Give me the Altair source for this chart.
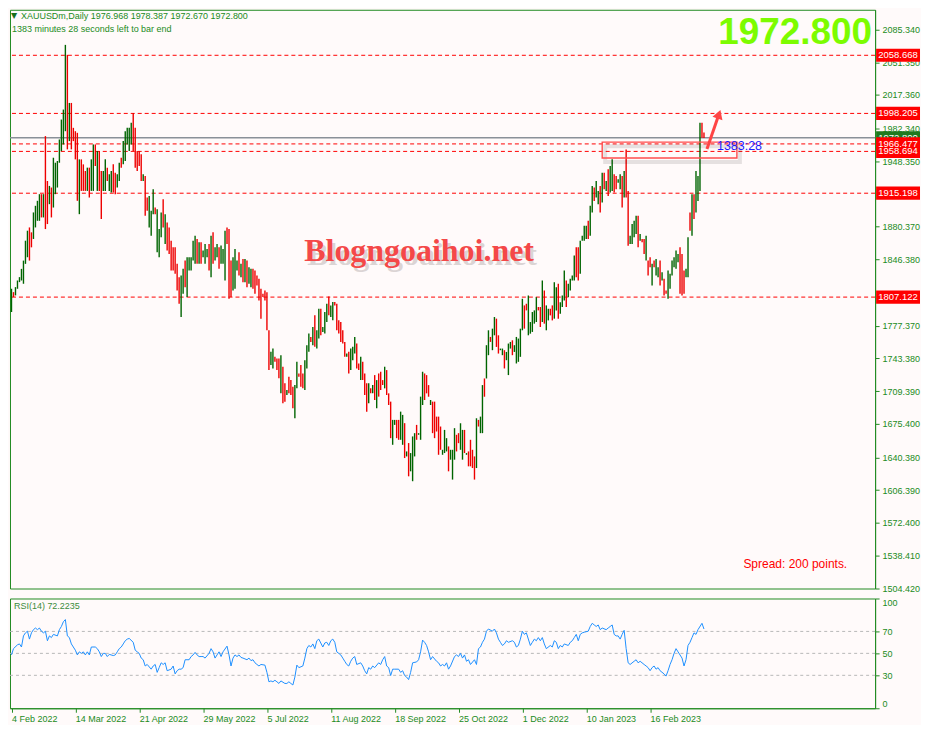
import altair as alt
import pandas as pd

# ---------------- data ----------------
high = [
    1815.8, 1812.3, 1817.5, 1824.4, 1827.9, 1836.5, 1845.1, 1865.8, 1876.2, 1879.6,
    1874.5, 1895.2, 1902.1, 1907.3, 1914.2, 1914.2, 1914.2, 1974.6, 1927.9, 1922.8,
    1921.1, 1952.1, 1946.9, 1948.7, 1971.1, 1991.8, 2002.2, 2069.5, 2059.1, 2009.1,
    2009.1, 1983.2, 1979.7, 1978.0, 1950.4, 1950.4, 1945.2, 1938.3, 1941.8, 1941.8,
    1950.4, 1965.9, 1965.9, 1959.0, 1959.0, 1938.3, 1938.3, 1950.4, 1941.8, 1934.9,
    1938.3, 1945.2, 1936.6, 1934.9, 1946.9, 1952.1, 1969.4, 1979.7, 1983.2, 1983.2,
    1988.4, 1998.7, 1983.2, 1959.0, 1959.0, 1955.6, 1934.9, 1933.1, 1910.7, 1912.4,
    1896.9, 1919.3, 1900.3, 1898.6, 1877.9, 1895.2, 1909.0, 1893.4, 1884.8, 1879.6,
    1865.8, 1858.9, 1858.9, 1841.7, 1827.9, 1829.6, 1836.5, 1845.1, 1848.6, 1848.6,
    1848.6, 1865.8, 1871.0, 1867.6, 1864.1, 1864.1, 1855.5, 1862.4, 1857.2, 1862.4,
    1871.0, 1874.5, 1858.9, 1862.4, 1858.9, 1860.7, 1857.2, 1876.2, 1879.6, 1877.9,
    1845.1, 1848.6, 1857.2, 1845.1, 1853.7, 1841.7, 1846.8, 1846.8, 1845.1, 1838.2,
    1836.5, 1836.5, 1834.8, 1829.6, 1826.1, 1815.8, 1810.6, 1814.1, 1812.3, 1772.6,
    1750.2, 1753.6, 1745.0, 1743.3, 1743.3, 1746.7, 1734.7, 1717.4, 1710.5, 1724.3,
    1720.8, 1713.9, 1715.7, 1739.8, 1727.7, 1736.4, 1727.7, 1741.5, 1757.1, 1769.2,
    1765.7, 1776.1, 1788.2, 1772.6, 1795.1, 1795.1, 1776.1, 1791.6, 1800.2, 1807.8,
    1798.5, 1802.0, 1802.0, 1800.2, 1783.0, 1781.2, 1772.6, 1760.5, 1748.5, 1750.2,
    1753.6, 1755.4, 1765.7, 1758.8, 1738.1, 1745.0, 1739.8, 1727.7, 1717.4, 1717.4,
    1712.2, 1715.7, 1726.0, 1720.8, 1727.7, 1729.5, 1720.8, 1734.7, 1731.2, 1707.0,
    1698.4, 1679.4, 1679.4, 1679.4, 1679.4, 1688.0, 1684.6, 1676.0, 1646.6, 1655.3,
    1644.9, 1662.2, 1665.6, 1674.2, 1665.6, 1703.6, 1729.5, 1727.7, 1726.0, 1715.6,
    1700.1, 1698.4, 1698.4, 1682.8, 1682.8, 1672.5, 1648.3, 1669.0, 1660.4, 1651.8,
    1648.3, 1648.3, 1670.8, 1663.9, 1665.6, 1675.9, 1669.0, 1669.0, 1644.9, 1646.6,
    1658.7, 1648.3, 1641.4, 1681.1, 1679.4, 1682.8, 1715.6, 1722.5, 1757.1, 1772.6,
    1765.7, 1774.3, 1786.4, 1784.7, 1767.4, 1753.6, 1753.6, 1751.9, 1750.1, 1758.8,
    1760.5, 1762.2, 1757.1, 1765.7, 1764.0, 1774.3, 1805.4, 1798.5, 1800.2, 1808.8,
    1781.2, 1791.6, 1793.3, 1807.1, 1796.8, 1796.8, 1824.4, 1814.0, 1798.5, 1795.0,
    1795.0, 1798.5, 1822.6, 1817.5, 1820.9, 1801.9, 1808.8, 1834.7, 1824.4, 1820.9,
    1826.1, 1829.5, 1850.3, 1858.9, 1858.9, 1865.8, 1871.0, 1881.3, 1881.3, 1886.5,
    1902.1, 1922.8, 1921.1, 1928.0, 1917.6, 1922.8, 1936.6, 1936.6, 1928.0, 1940.0,
    1943.5, 1950.4, 1934.9, 1933.1, 1929.7, 1934.9, 1933.1, 1938.3, 1960.7, 1917.6,
    1871.0, 1883.1, 1886.5, 1891.7, 1891.7, 1872.7, 1867.5, 1867.5, 1871.0, 1845.1,
    1848.6, 1841.7, 1845.1, 1846.8, 1838.2, 1845.1, 1833.0, 1826.1, 1814.0, 1834.7,
    1831.3, 1845.1, 1848.6, 1855.5, 1852.0, 1858.9, 1852.0, 1834.7, 1836.5, 1869.3,
    1895.2, 1914.1, 1914.1, 1938.3, 1933.1, 1988.4, 1988.4, 1978.4,
]
low = [
    1791.6, 1807.2, 1808.9, 1815.8, 1822.7, 1824.4, 1821.0, 1841.7, 1848.6, 1845.1,
    1858.9, 1867.6, 1879.6, 1886.5, 1886.5, 1890.0, 1890.0, 1877.9, 1883.1, 1903.8,
    1890.0, 1900.3, 1914.2, 1921.1, 1946.9, 1959.0, 1965.9, 1979.7, 1960.8, 1969.4,
    1960.8, 1969.4, 1950.4, 1907.3, 1893.4, 1917.6, 1917.6, 1917.6, 1917.6, 1910.7,
    1917.6, 1917.6, 1943.5, 1917.6, 1917.6, 1888.3, 1917.6, 1917.6, 1927.9, 1917.6,
    1915.9, 1915.9, 1914.2, 1921.1, 1927.9, 1941.8, 1945.2, 1948.7, 1965.9, 1959.0,
    1965.9, 1959.0, 1941.8, 1938.3, 1943.5, 1927.9, 1927.9, 1891.7, 1896.9, 1879.6,
    1871.0, 1893.4, 1893.4, 1853.7, 1848.6, 1869.3, 1879.6, 1862.4, 1855.5, 1852.0,
    1834.8, 1834.8, 1831.3, 1814.1, 1800.2, 1786.4, 1810.6, 1817.5, 1807.2, 1834.8,
    1834.8, 1845.1, 1841.7, 1841.7, 1841.7, 1841.7, 1848.6, 1841.7, 1848.6, 1834.8,
    1827.9, 1841.7, 1845.1, 1848.6, 1836.5, 1841.7, 1841.7, 1824.4, 1862.4, 1805.4,
    1807.2, 1814.1, 1815.8, 1834.8, 1829.6, 1827.9, 1822.7, 1822.7, 1817.5, 1821.0,
    1817.5, 1815.8, 1810.6, 1819.2, 1803.7, 1784.7, 1807.2, 1803.7, 1772.6, 1731.2,
    1736.4, 1732.9, 1739.8, 1731.2, 1722.6, 1707.0, 1696.7, 1698.4, 1705.3, 1707.0,
    1705.3, 1691.5, 1681.1, 1712.2, 1724.3, 1713.9, 1712.2, 1710.5, 1732.9, 1750.2,
    1760.5, 1757.1, 1755.4, 1753.6, 1764.0, 1767.4, 1770.9, 1769.2, 1781.2, 1788.2,
    1786.4, 1783.0, 1798.5, 1772.6, 1769.2, 1760.5, 1758.8, 1745.0, 1745.0, 1727.7,
    1731.2, 1741.5, 1748.5, 1732.9, 1731.2, 1720.8, 1720.8, 1705.3, 1688.0, 1696.7,
    1707.0, 1707.0, 1700.1, 1691.5, 1703.6, 1710.5, 1715.7, 1712.2, 1705.3, 1694.9,
    1660.4, 1653.5, 1674.2, 1660.4, 1658.7, 1658.7, 1653.5, 1639.7, 1641.4, 1620.7,
    1625.9, 1615.6, 1641.4, 1658.7, 1663.9, 1658.7, 1694.9, 1700.1, 1707.0, 1703.5,
    1694.9, 1665.6, 1660.4, 1667.3, 1643.1, 1648.3, 1643.1, 1644.9, 1646.6, 1625.9,
    1638.0, 1617.3, 1638.0, 1646.6, 1655.2, 1648.3, 1638.0, 1644.9, 1643.1, 1631.1,
    1631.1, 1629.3, 1617.3, 1629.3, 1672.5, 1665.6, 1665.6, 1703.5, 1722.5, 1746.7,
    1760.5, 1751.9, 1767.4, 1755.3, 1748.4, 1751.9, 1746.7, 1732.9, 1741.5, 1726.0,
    1753.6, 1746.7, 1750.1, 1738.1, 1739.8, 1745.0, 1772.6, 1774.3, 1793.3, 1767.4,
    1769.1, 1770.9, 1779.5, 1781.2, 1793.3, 1776.0, 1781.2, 1779.5, 1772.6, 1782.9,
    1788.1, 1782.9, 1784.7, 1793.3, 1784.7, 1789.8, 1796.8, 1803.7, 1796.8, 1807.1,
    1814.0, 1824.4, 1824.4, 1827.8, 1824.4, 1831.3, 1865.8, 1865.8, 1867.5, 1867.5,
    1871.0, 1895.2, 1907.2, 1910.7, 1903.8, 1895.2, 1905.5, 1919.3, 1917.6, 1912.4,
    1915.9, 1917.6, 1915.9, 1919.3, 1926.2, 1919.3, 1900.3, 1910.7, 1910.7, 1860.6,
    1862.4, 1862.4, 1869.3, 1872.7, 1858.9, 1865.8, 1864.1, 1852.0, 1845.1, 1829.6,
    1838.2, 1819.2, 1838.2, 1829.6, 1827.8, 1819.2, 1824.4, 1808.9, 1810.6, 1805.4,
    1815.8, 1829.6, 1838.2, 1836.5, 1843.4, 1810.6, 1808.9, 1810.6, 1827.8, 1827.8,
    1876.2, 1871.0, 1888.3, 1895.2, 1907.2, 1917.6, 1972.8, 1972.7,
]
# U = bullish bar (green), D = bearish bar (red)
direction = list(
    "UDUUUUUUUD" "DUUUUDUDDU" "DUUUUUUUDU" "DDDDUDDDUD" "UUDUDDUUDU"
    "UDDUUDUUUU" "UDDDDDUDDU" "UUDUUUDUDD" "DDDDDUUDUU" "UUUDUDUUUD"
    "UDUUDUUUDD" "DUUUDUDUDU" "UDDDDDDDDD" "UUDDDUDDUD" "DDUUDDDUUU"
    "DUDUUDUUUD" "UUDDDDDDUD" "UUUDDUDDDU" "DUDUDDDUDD" "DUUDDUUDUD"
    "UUUDUUUDDD" "UDDDDDUUUD" "UUUDDUUDUD" "DDDUDUUDUU" "DUUDDUUDUU"
    "UDUUUUUDDU" "UUUUDDUDUU" "DDUUDUUUDU" "UUUDDUUUUD" "UUDUUDUDUD"
    "UUDDUUDUDD" "UUUUDUDDUD" "DUDUUDUDDU" "UUUUUDDDUU" "DUDUUUDD"
)

# RSI(14) readings: (bar number, value)
rsi_points = [
    (0, 48.6), (1, 54.3), (3, 57.8), (4, 58.6), (5, 55.8), (6, 65.9), (7, 68.7), (8, 70.2), (9, 63.0), (10, 68.7),
    (11, 71.6), (12, 73.1), (13, 71.6), (14, 73.1), (15, 70.2), (16, 68.7), (17, 70.2), (18, 61.5), (19, 65.9), (20, 64.4),
    (21, 67.3), (23, 65.9), (24, 71.6), (25, 74.5), (26, 78.8), (27, 80.8), (28, 65.9), (29, 64.4), (30, 58.6), (32, 52.9),
    (33, 48.6), (34, 51.4), (35, 50.0), (36, 51.4), (37, 48.6), (38, 51.4), (39, 48.6), (40, 55.8), (42, 55.8), (43, 54.3),
    (44, 51.4), (45, 47.1), (46, 50.0), (47, 50.0), (48, 47.1), (49, 49.1), (51, 48.0), (52, 48.6), (53, 51.4), (54, 54.3),
    (55, 55.8), (56, 58.6), (57, 61.5), (58, 63.0), (59, 63.6), (61, 60.1), (62, 52.9), (63, 51.4), (64, 50.0), (65, 45.7),
    (66, 44.2), (67, 38.5), (68, 39.9), (70, 35.6), (71, 38.5), (72, 39.9), (73, 32.7), (74, 37.0), (75, 41.4), (76, 39.9),
    (77, 41.4), (78, 34.2), (80, 35.6), (81, 38.5), (82, 31.3), (83, 34.2), (84, 35.6), (85, 35.6), (86, 37.0), (87, 44.2),
    (89, 44.2), (90, 47.1), (91, 48.6), (92, 50.9), (93, 48.6), (94, 47.1), (95, 47.1), (96, 47.1), (97, 45.7), (99, 50.0),
    (100, 54.3), (101, 51.4), (102, 45.7), (103, 48.6), (104, 51.4), (105, 47.1), (106, 51.4), (108, 56.6), (109, 48.6), (110, 38.5),
    (111, 45.7), (112, 48.6), (113, 47.1), (114, 48.6), (115, 46.3), (116, 45.7), (118, 44.2), (119, 45.7), (120, 43.4), (121, 44.2),
    (122, 41.4), (123, 39.9), (124, 38.5), (125, 39.9), (127, 39.3), (128, 32.7), (129, 24.1), (130, 24.9), (131, 24.1), (132, 25.5),
    (133, 24.1), (134, 22.6), (135, 24.9), (137, 22.6), (138, 22.6), (139, 24.1), (140, 22.6), (141, 21.2), (142, 28.4), (143, 39.3),
    (144, 37.0), (146, 38.5), (147, 45.7), (148, 54.3), (149, 57.2), (150, 55.8), (151, 58.6), (152, 54.3), (153, 61.5), (154, 63.0),
    (156, 55.8), (157, 59.5), (158, 60.1), (159, 57.2), (160, 61.5), (161, 63.0), (162, 60.1), (163, 51.4), (165, 48.6), (166, 45.7),
    (167, 42.8), (168, 39.9), (169, 38.5), (170, 42.8), (171, 45.7), (172, 47.1), (173, 39.9), (175, 41.4), (176, 38.5), (177, 34.2),
    (178, 31.3), (179, 37.0), (180, 35.6), (181, 38.5), (182, 37.0), (184, 41.4), (185, 39.9), (186, 44.2), (187, 47.1), (188, 38.5),
    (189, 37.0), (190, 29.8), (191, 35.6), (192, 35.6), (194, 35.6), (195, 32.7), (196, 34.2), (197, 29.8), (198, 28.4), (199, 26.1),
    (200, 32.7), (201, 41.4), (203, 42.2), (204, 44.2), (205, 51.4), (206, 62.1), (207, 60.1), (208, 57.2), (209, 51.4), (210, 44.2),
    (211, 47.1), (213, 42.8), (214, 41.4), (215, 38.5), (216, 39.9), (217, 38.5), (218, 41.4), (219, 35.6), (220, 38.5), (222, 47.1),
    (223, 48.6), (224, 47.1), (225, 50.0), (226, 45.7), (227, 48.6), (228, 42.8), (229, 44.2), (230, 39.9), (232, 44.2), (233, 39.9),
    (234, 54.3), (235, 55.8), (236, 60.1), (237, 63.0), (238, 70.2), (239, 72.2), (241, 70.2), (242, 72.2), (243, 68.7), (244, 63.0),
    (245, 60.1), (246, 57.2), (247, 58.6), (248, 61.5), (249, 60.1), (251, 61.5), (252, 60.1), (253, 55.8), (254, 57.2), (255, 63.0),
    (256, 70.2), (257, 67.3), (258, 68.7), (260, 57.2), (261, 60.1), (262, 63.0), (263, 61.5), (264, 64.4), (265, 61.5), (266, 64.4),
    (267, 58.6), (268, 54.3), (270, 57.2), (271, 55.8), (272, 61.5), (273, 60.1), (274, 54.3), (275, 57.2), (276, 55.8), (277, 58.6),
    (279, 57.2), (280, 60.1), (281, 61.5), (282, 64.4), (283, 67.3), (284, 61.5), (285, 67.3), (286, 68.7), (287, 69.3), (289, 70.2),
    (290, 74.5), (291, 77.4), (292, 75.9), (293, 74.5), (294, 75.9), (295, 71.6), (296, 73.1), (298, 71.6), (299, 73.1), (300, 74.5),
    (301, 75.9), (302, 67.3), (303, 65.9), (304, 65.9), (305, 63.0), (306, 67.3), (307, 71.0), (308, 54.3), (309, 41.4), (310, 39.9),
    (312, 42.8), (313, 44.2), (314, 41.4), (315, 42.8), (317, 39.9), (318, 38.5), (319, 37.0), (320, 34.2), (321, 37.0), (322, 38.5),
    (323, 35.6), (324, 37.0), (325, 34.2), (327, 31.3), (328, 29.3), (329, 34.2), (330, 39.9), (331, 44.2), (332, 50.0), (333, 54.3),
    (334, 51.4), (336, 45.7), (337, 38.5), (338, 44.2), (339, 57.2), (340, 60.1), (341, 64.4), (342, 68.7), (343, 67.3), (344, 71.6),
    (346, 77.4), (347, 72.2),
]

levels = [2058.668, 1998.205, 1966.477, 1958.694, 1915.198, 1807.122]
current_price = 1972.800
# price scale labels that stay visible (the ones under the red level boxes are covered)
price_ticks = [2085.340, 2051.350, 2017.360, 1982.340, 1948.350, 1880.370,
               1846.380, 1777.370, 1743.380, 1709.390, 1675.400, 1640.380,
               1606.390, 1572.400, 1538.410, 1504.420]
rsi_levels = [30, 50, 70]
rsi_ticks = [0, 30, 50, 70, 100]
date_tick_bars = [0, 32, 64, 96, 128, 160, 192, 224, 256, 288, 320]
date_labels = ["4 Feb 2022", "14 Mar 2022", "21 Apr 2022", "29 May 2022", "5 Jul 2022",
               "11 Aug 2022", "18 Sep 2022", "25 Oct 2022", "1 Dec 2022", "10 Jan 2023",
               "16 Feb 2023"]
# drawn objects (bar number / price)
zone_bars = [296.0, 363.5]
zone_prices = [1968.3, 1951.8]
arrow_bars = [348.5, 354.5]
arrow_prices = [1961.1, 1997.3]
timer_bar, timer_price, timer_text = 353.5, 1964.2, "1383:28"

header_1 = "XAUUSDm,Daily  1976.968 1978.387 1972.670 1972.800"
header_2 = "1383 minutes 28 seconds left to bar end"
big_price = "1972.800"
watermark = "Blogngoaihoi.net"
spread_text = "Spread: 200 points."
rsi_title = "RSI(14) 72.2235"

# ---------------- styling ----------------
GREEN = "#228B22"
UP_COLOR = "#006400"
DOWN_COLOR = "#ee0000"
LEVEL_RED = "#ff0000"
BG = "#fffafa"
FONT = "Liberation Sans"
W = 867
H_MAIN = 580
H_RSI = 110

# 2 px per bar
x_scale = alt.Scale(domain=[-0.75, 432.75], nice=False, zero=False)
y_scale = alt.Scale(domain=[1504.0, 2106.0], nice=False, zero=False)

y_axis = alt.Axis(orient="right", values=price_ticks, format=".3f", title=None, grid=False,
                  domainColor=GREEN, tickColor=GREEN, labelColor=GREEN, labelFont=FONT,
                  labelFontSize=9, tickSize=4, labelPadding=3)


def X(field):
    return alt.X(field, type="quantitative", scale=x_scale, axis=None)


def Y(field):
    return alt.Y(field, type="quantitative", scale=y_scale, axis=y_axis)


bars_df = pd.DataFrame({"bar": list(range(len(high))), "high": high, "low": low, "dir": direction})
levels_df = pd.DataFrame({"price": levels, "label": [f"{v:.3f}" for v in levels]})
cur_df = pd.DataFrame({"price": [current_price], "label": [f"{current_price:.3f}"]})
zone_df = pd.DataFrame({"b1": [zone_bars[0]], "b2": [zone_bars[1]], "p1": [zone_prices[0]], "p2": [zone_prices[1]]})
arrow_df = pd.DataFrame({"bar": arrow_bars, "price": arrow_prices, "k": [0, 1]})
head_df = pd.DataFrame({"bar": [arrow_bars[1]], "price": [arrow_prices[1]]})
timer_df = pd.DataFrame({"bar": [timer_bar], "price": [timer_price], "t": [timer_text]})

level_lines = alt.Chart(levels_df).mark_rule(color=LEVEL_RED, strokeDash=[4, 3], strokeWidth=1).encode(y=Y("price"))
bid_line = alt.Chart(cur_df).mark_rule(color="#8a9098", strokeWidth=1.5).encode(y=Y("price"))

bars = alt.Chart(bars_df).mark_rule(strokeWidth=1.4).encode(
    x=X("bar"), y=Y("low"), y2=alt.Y2("high"),
    color=alt.Color("dir:N", scale=alt.Scale(domain=["U", "D"], range=[UP_COLOR, DOWN_COLOR]), legend=None),
)

zone_shadow = alt.Chart(zone_df).mark_rect(fill="transparent", stroke="#000000", strokeOpacity=0.10,
                                           strokeWidth=4, xOffset=3, x2Offset=3, yOffset=4, y2Offset=4).encode(
    x=X("b1"), x2=alt.X2("b2"), y=Y("p1"), y2=alt.Y2("p2"))
zone_rect = alt.Chart(zone_df).mark_rect(fill="transparent", stroke="#ff4d4d", strokeWidth=1.4).encode(
    x=X("b1"), x2=alt.X2("b2"), y=Y("p1"), y2=alt.Y2("p2"))

arrow_line = alt.Chart(arrow_df).mark_line(color="#ff4444", strokeWidth=3).encode(
    x=X("bar"), y=Y("price"), order="k:Q")
arrow_head = alt.Chart(head_df).mark_point(shape="triangle-up", filled=True, size=110, angle=19,
                                           color="#ff4444", opacity=1).encode(x=X("bar"), y=Y("price"))
timer = alt.Chart(timer_df).mark_text(align="left", baseline="middle", color="#1a1aff", font=FONT,
                                      fontSize=12.5).encode(x=X("bar"), y=Y("price"), text="t:N")


def label_text(text, x, y, **kw):
    return alt.Chart(pd.DataFrame({"t": [text]})).mark_text(**kw).encode(
        x=alt.value(x), y=alt.value(y), text="t:N")


wm_shadow = label_text(watermark, 413, 246, font="Liberation Serif", fontWeight="bold", fontSize=32,
                       color="#8c8080", opacity=0.3, align="center", baseline="middle")
wm = label_text(watermark, 410, 242, font="Liberation Serif", fontWeight="bold", fontSize=32,
                color="#f44848", align="center", baseline="middle")
tri = label_text("\u25bc", 4, 6, font="DejaVu Sans", fontSize=8, color="#1a6e1a", align="center", baseline="middle")
h1 = label_text(header_1, 11, 6, font=FONT, fontSize=9, color=GREEN, align="left", baseline="middle")
h2 = label_text(header_2, 2, 19, font=FONT, fontSize=9, color=GREEN, align="left", baseline="middle")
big = label_text(big_price, 864, 34, font=FONT, fontWeight="bold", fontSize=37, color="#7cfc00",
                 align="right", baseline="alphabetic")
spread = label_text(spread_text, 735, 555, font=FONT, fontSize=12, color="#ff0000", align="left", baseline="middle")

BOX = "M-1,-0.3L1,-0.3L1,0.3L-1,0.3Z"
BOX_X = W + 23
cur_box = alt.Chart(cur_df).mark_point(shape=BOX, filled=True, size=1936, opacity=1, strokeWidth=0,
                                       color="#1f7a1f").encode(x=alt.value(BOX_X), y=Y("price"))
cur_txt = alt.Chart(cur_df).mark_text(color="white", font=FONT, fontSize=9.5, align="center",
                                      baseline="middle").encode(x=alt.value(BOX_X), y=Y("price"), text="label:N")
lvl_box = alt.Chart(levels_df).mark_point(shape=BOX, filled=True, size=1936, opacity=1, strokeWidth=0,
                                          color="#ff0000").encode(x=alt.value(BOX_X), y=Y("price"))
lvl_txt = alt.Chart(levels_df).mark_text(color="white", font=FONT, fontSize=9.5, align="center",
                                         baseline="middle").encode(x=alt.value(BOX_X), y=Y("price"), text="label:N")

main = alt.layer(
    level_lines, bid_line, wm_shadow, wm, bars, zone_shadow, zone_rect, arrow_line, arrow_head, timer,
    tri, h1, h2, big, spread, cur_box, cur_txt, lvl_box, lvl_txt,
).properties(width=W, height=H_MAIN)

# ---------------- RSI panel ----------------
rsi_df = pd.DataFrame({"bar": [p[0] for p in rsi_points], "rsi": [p[1] for p in rsi_points]})
labels_js = "[" + ",".join(f"'{s}'" for s in date_labels) + "]"
ticks_js = "[" + ",".join(str(v) for v in date_tick_bars) + "]"
x_axis = alt.Axis(values=date_tick_bars, labelExpr=f"{labels_js}[indexof({ticks_js}, datum.value)]",
                  title=None, grid=False, domainColor=GREEN, tickColor=GREEN, labelColor=GREEN,
                  labelFont=FONT, labelFontSize=9, tickSize=4, labelAlign="left", labelPadding=2,
                  labelOverlap=False)
rsi_axis = alt.Axis(orient="right", values=rsi_ticks, title=None, grid=False, domainColor=GREEN,
                    tickColor=GREEN, labelColor=GREEN, labelFont=FONT, labelFontSize=9, tickSize=4,
                    labelPadding=3, labelFlush=True)
rsi_y = alt.Scale(domain=[0, 100], nice=False, zero=False)

rsi_grid = alt.Chart(pd.DataFrame({"v": rsi_levels})).mark_rule(color="#b8b8b8", strokeDash=[3, 3]).encode(
    y=alt.Y("v:Q", scale=rsi_y, axis=rsi_axis))
rsi_line = alt.Chart(rsi_df).mark_line(color="#1e90ff", strokeWidth=1).encode(
    x=alt.X("bar:Q", scale=x_scale, axis=x_axis),
    y=alt.Y("rsi:Q", scale=rsi_y, axis=rsi_axis))
rsi_lbl = label_text(rsi_title, 4, 8, font=FONT, fontSize=9, color="#3c8c3c", align="left", baseline="middle")

rsi = alt.layer(rsi_grid, rsi_line, rsi_lbl).properties(width=W, height=H_RSI)

chart = alt.vconcat(main, rsi, spacing=3).properties(
    background=BG, padding={"left": 0, "top": 0, "right": 0, "bottom": 0}
).configure_view(stroke=GREEN, strokeWidth=1)

chart.save("out.html", embed_options={"renderer": "svg", "actions": False})
